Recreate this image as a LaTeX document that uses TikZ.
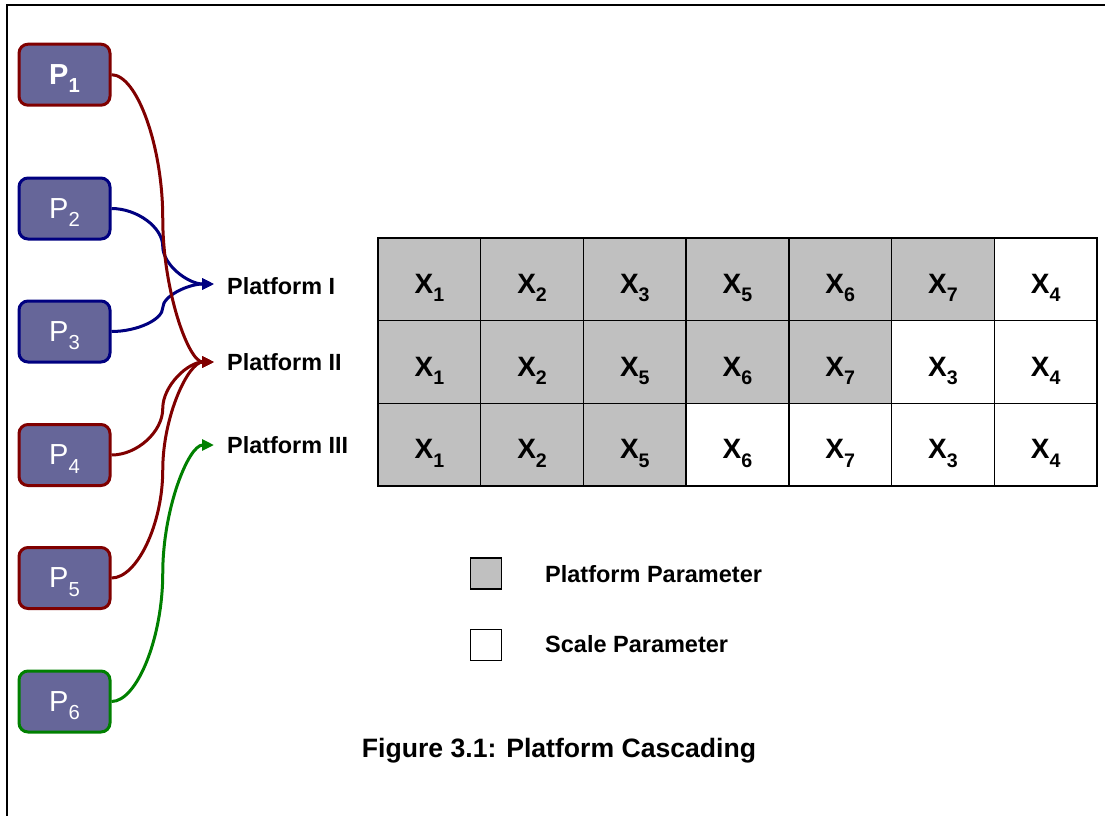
\documentclass[tikz,border=0pt]{standalone}
\usepackage{fontspec}
\setmainfont{Liberation Sans}
\usetikzlibrary{arrows.meta,calc}

\definecolor{boxfill}{HTML}{666699}
\definecolor{linkred}{HTML}{800000}
\definecolor{linkblue}{HTML}{000080}
\definecolor{linkgreen}{HTML}{008000}
\definecolor{cellgrey}{HTML}{C0C0C0}

% lowered index, 70% of the running size
\newcommand\lowidx[1]{\raisebox{-0.3em}{\scalebox{0.7}{#1}}}

\tikzset{
  % S-shaped connector: horizontal start, vertical middle, horizontal end
  elbowcurve/.style={to path={
    let \p1=(\tikztostart), \p2=(\tikztotarget) in
    .. controls ({0.75*\x1+0.25*\x2},\y1) and ({0.5*\x1+0.5*\x2},{0.75*\y1+0.25*\y2})
    .. ({0.5*\x1+0.5*\x2},{0.5*\y1+0.5*\y2})
    .. controls ({0.5*\x1+0.5*\x2},{0.25*\y1+0.75*\y2}) and ({0.25*\x1+0.75*\x2},\y2)
    .. (\tikztotarget)}},
  pbox/.style={draw=#1, line width=3pt, fill=boxfill, rounded corners=9pt,
    minimum width=91pt, minimum height=61pt, inner sep=0pt, text=white,
    font=\fontsize{29}{29}\selectfont, text height=19pt, text depth=0pt},
  link/.style={draw=#1, line width=3pt, elbowcurve,
    -{Triangle[length=12pt,width=11pt]}},
  platlabel/.style={font=\bfseries\fontsize{23.4}{23.4}\selectfont, inner sep=0pt, anchor=base west},
  cell/.style={draw, line width=1.5pt, minimum width=102.714pt, minimum height=82.667pt,
    inner sep=0pt, font=\bfseries\fontsize{28}{28}\selectfont,
    text height=28pt, text depth=0pt},
  legbox/.style={draw, line width=1.5pt, minimum size=31pt, inner sep=0pt},
  legtext/.style={font=\bfseries\fontsize{23.5}{23.5}\selectfont, inner sep=0pt, anchor=base west},
}

\begin{document}
\begin{tikzpicture}[x=1pt,y=-1pt]
\useasboundingbox (0,0) rectangle (1105,815);

% page frame
\draw[line width=2pt] (7,816) -- (7,5) -- (1106,5);

% parameter boxes
\node[pbox=linkred]   (p1) at (64.5,74.7)  {\bfseries P\lowidx{1}};
\node[pbox=linkblue]  (p2) at (64.5,208.5) {P\lowidx{2}};
\node[pbox=linkblue]  (p3) at (64.5,331.5) {P\lowidx{3}};
\node[pbox=linkred]   (p4) at (64.5,455)   {P\lowidx{4}};
\node[pbox=linkred]   (p5) at (64.5,578)   {P\lowidx{5}};
\node[pbox=linkgreen] (p6) at (64.5,701.5) {P\lowidx{6}};

% arrow targets and platform names
\coordinate (tI)   at (214,284);
\coordinate (tII)  at (214,362);
\coordinate (tIII) at (214,445);
\node[platlabel] (lI)   at (227,294)   {Platform I};
\node[platlabel] (lII)  at (227,370.7) {Platform II};
\node[platlabel] (lIII) at (227,453)   {Platform III};

% connectors
\draw[link=linkblue]  (p2.east) to (tI);
\draw[link=linkblue]  (p3.east) to (tI);
\draw[link=linkred]   (p1.east) to (tII);
\draw[link=linkred]   (p4.east) to (tII);
\draw[link=linkred]   (p5.east) to (tII);
\draw[link=linkgreen] (p6.east) to (tIII);

% parameter table: grey = platform parameter, white = scale parameter
\foreach \d [count=\c] in {1,2,3,5,6,7,4} {
  \ifnum\c>6 \def\cellfill{white}\else\def\cellfill{cellgrey}\fi
  \node[cell, fill=\cellfill] (a\c) at ({378+102.714*(\c-0.5)},279.3) {X\lowidx{\d}};
}
\foreach \d [count=\c] in {1,2,5,6,7,3,4} {
  \ifnum\c>5 \def\cellfill{white}\else\def\cellfill{cellgrey}\fi
  \node[cell, fill=\cellfill] (b\c) at ({378+102.714*(\c-0.5)},362) {X\lowidx{\d}};
}
\foreach \d [count=\c] in {1,2,5,6,7,3,4} {
  \ifnum\c>3 \def\cellfill{white}\else\def\cellfill{cellgrey}\fi
  \node[cell, fill=\cellfill] (r\c) at ({378+102.714*(\c-0.5)},444.7) {X\lowidx{\d}};
}

% legend
\node[legbox, fill=cellgrey] (kplat)  at (486,573.5) {};
\node[legbox, fill=white]    (kscale) at (486,645)   {};
\node[legtext] (tplat)  at (545,582) {Platform Parameter};
\node[legtext] (tscale) at (545,652) {Scale Parameter};

% caption
\node[font=\bfseries\fontsize{26.6}{26.6}\selectfont, inner sep=0pt, anchor=base]
  (caption) at (559,757) {Figure 3.1: Platform Cascading};
\end{tikzpicture}
\end{document}
